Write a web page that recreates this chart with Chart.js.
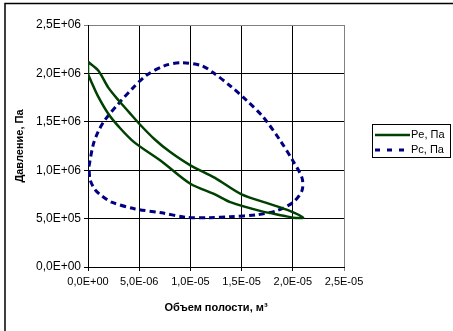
<!DOCTYPE html>
<html>
<head>
<meta charset="utf-8">
<script src="https://cdn.jsdelivr.net/npm/chart.js@4/dist/chart.umd.min.js"></script>
<style>
  body { margin: 0; background: #fff; }
  canvas { display: block; }
</style>
</head>
<body>
<canvas id="pvChart" width="453" height="331"></canvas>
<script>
// ---------------- data ----------------
const seriesNames = ['Pe, Па', 'Pc, Па'];

// Pe: closed loop, upper branch to the tip then lower branch back
const peX = [0, 1.0e-6, 2.0e-6, 3.0e-6, 4.0e-6, 5.0e-6, 6.5e-6, 8.0e-6, 10.0e-6, 12.4e-6, 15.0e-6, 17.8e-6, 19.7e-6, 21.0e-6,
             20.0e-6, 19.1e-6, 16.8e-6, 13.9e-6, 12.4e-6, 10.0e-6, 7.2e-6, 4.5e-6, 3.0e-6, 2.0e-6, 1.0e-6, 0.3e-6, 0, 0];
const peY = [2.12e6, 2.03e6, 1.85e6, 1.72e6, 1.60e6, 1.48e6, 1.32e6, 1.19e6, 1.05e6, 0.92e6, 0.75e6, 0.65e6, 0.58e6, 0.51e6,
             0.51e6, 0.53e6, 0.58e6, 0.67e6, 0.75e6, 0.86e6, 1.09e6, 1.29e6, 1.45e6, 1.58e6, 1.76e6, 1.92e6, 2.0e6, 2.12e6];

// Pc: closed loop, starting on the left going up
const pcX = [0.1e-6, 0.5e-6, 1.0e-6, 1.66e-6, 3.0e-6, 4.3e-6, 5.7e-6, 7.5e-6, 9.15e-6, 11.1e-6, 12.2e-6, 13.9e-6, 15.5e-6, 17.1e-6, 18.75e-6,
             20.05e-6, 20.9e-6, 20.9e-6, 20.05e-6, 18.4e-6, 16.5e-6, 13.9e-6, 11.9e-6, 9.5e-6, 7.2e-6, 4.6e-6, 2.3e-6, 1.34e-6, 0.68e-6, 0.2e-6, 0.1e-6];
const pcY = [1.04e6, 1.26e6, 1.40e6, 1.52e6, 1.69e6, 1.84e6, 1.98e6, 2.08e6, 2.11e6, 2.08e6, 2.01e6, 1.87e6, 1.72e6, 1.55e6, 1.31e6,
             1.09e6, 0.92e6, 0.79e6, 0.67e6, 0.58e6, 0.54e6, 0.52e6, 0.51e6, 0.515e6, 0.56e6, 0.60e6, 0.67e6, 0.735e6, 0.80e6, 0.905e6, 1.04e6];

const xTickLabels = ['0,0E+00', '5,0E-06', '1,0E-05', '1,5E-05', '2,0E-05', '2,5E-05'];
const yTickLabels = ['0,0E+00', '5,0E+05', '1,0E+06', '1,5E+06', '2,0E+06', '2,5E+06'];

const xTitle = 'Объем полости, м³';
const yTitle = 'Давление, Па';

const colors = ['#004000', '#000080'];

function toPoints(xs, ys) {
    return xs.map((x, i) => ({ x: x, y: ys[i] }));
}

/*------------------frame + legend drawn like the Excel original------------------------*/
const excelFrame = {
    id: 'excelFrame',
    beforeDraw(chart) {
        const ctx = chart.ctx;
        ctx.save();
        ctx.fillStyle = '#fff';
        ctx.fillRect(0, 0, chart.width, chart.height);
        ctx.strokeStyle = '#000';
        ctx.lineWidth = 1.5;
        ctx.strokeRect(5, 3.5, 470, 400);
        ctx.restore();
    },
    afterDraw(chart) {
        const ctx = chart.ctx;
        ctx.save();
        ctx.strokeStyle = '#000';
        ctx.lineWidth = 1;
        ctx.strokeRect(372.5, 124.5, 78, 33);
        ctx.font = '11px "Liberation Sans", Arial, sans-serif';
        ctx.textBaseline = 'middle';
        ctx.fillStyle = '#000';
        // Pe
        ctx.strokeStyle = colors[0];
        ctx.lineWidth = 2.5;
        ctx.beginPath();
        ctx.moveTo(375, 135);
        ctx.lineTo(410, 135);
        ctx.stroke();
        ctx.fillText(seriesNames[0], 411, 135);
        // Pc
        ctx.strokeStyle = colors[1];
        ctx.lineWidth = 3;
        ctx.setLineDash([5, 7]);
        ctx.beginPath();
        ctx.moveTo(375, 150);
        ctx.lineTo(410, 150);
        ctx.stroke();
        ctx.setLineDash([]);
        ctx.fillText(seriesNames[1], 411, 150);
        ctx.restore();
    }
};

const ctx = document.getElementById('pvChart').getContext('2d');
new Chart(ctx, {
    type: 'scatter',
    data: {
        datasets: [{
            label: seriesNames[0],
            data: toPoints(peX, peY),
            showLine: true,
            borderColor: colors[0],
            borderWidth: 2.5,
            pointRadius: 0,
            tension: 0.3
        }, {
            label: seriesNames[1],
            data: toPoints(pcX, pcY),
            showLine: true,
            borderColor: colors[1],
            borderWidth: 3,
            borderDash: [6, 4],
            pointRadius: 0,
            tension: 0.3
        }]
    },
    options: {
        responsive: false,
        animation: false,
        layout: { padding: { left: 6, top: 25, right: 109, bottom: 10 } },
        plugins: {
            legend: { display: false },
            tooltip: { enabled: false }
        },
        scales: {
            x: {
                type: 'linear',
                min: 0,
                max: 2.5e-5,
                afterFit: scale => { scale.height = 54; },
                ticks: {
                    stepSize: 5e-6,
                    maxRotation: 0,
                    padding: 4,
                    color: '#000',
                    font: { family: '"Liberation Sans", Arial', size: 11 },
                    callback: (v, i) => xTickLabels[i]
                },
                grid: {
                    color: c => c.index === xTickLabels.length - 1 ? '#808080' : '#000',
                    tickLength: 4
                },
                border: { color: '#000' },
                title: {
                    display: true,
                    text: xTitle,
                    color: '#000',
                    padding: { top: 0, bottom: 6 },
                    font: { family: '"Liberation Sans", Arial', size: 11, weight: 'bold' }
                }
            },
            y: {
                type: 'linear',
                min: 0,
                max: 2.5e6,
                afterFit: scale => { scale.width = 82; },
                ticks: {
                    stepSize: 5e5,
                    padding: 3,
                    color: '#000',
                    font: { family: '"Liberation Sans", Arial', size: 12 },
                    callback: (v, i) => yTickLabels[i]
                },
                grid: {
                    color: c => c.index === yTickLabels.length - 1 ? '#808080' : '#000',
                    tickLength: 4
                },
                border: { color: '#000' },
                title: {
                    display: true,
                    text: yTitle,
                    color: '#000',
                    padding: { top: 7, bottom: 0 },
                    font: { family: '"Liberation Sans", Arial', size: 11, weight: 'bold' }
                }
            }
        }
    },
    plugins: [excelFrame]
});
</script>
</body>
</html>
